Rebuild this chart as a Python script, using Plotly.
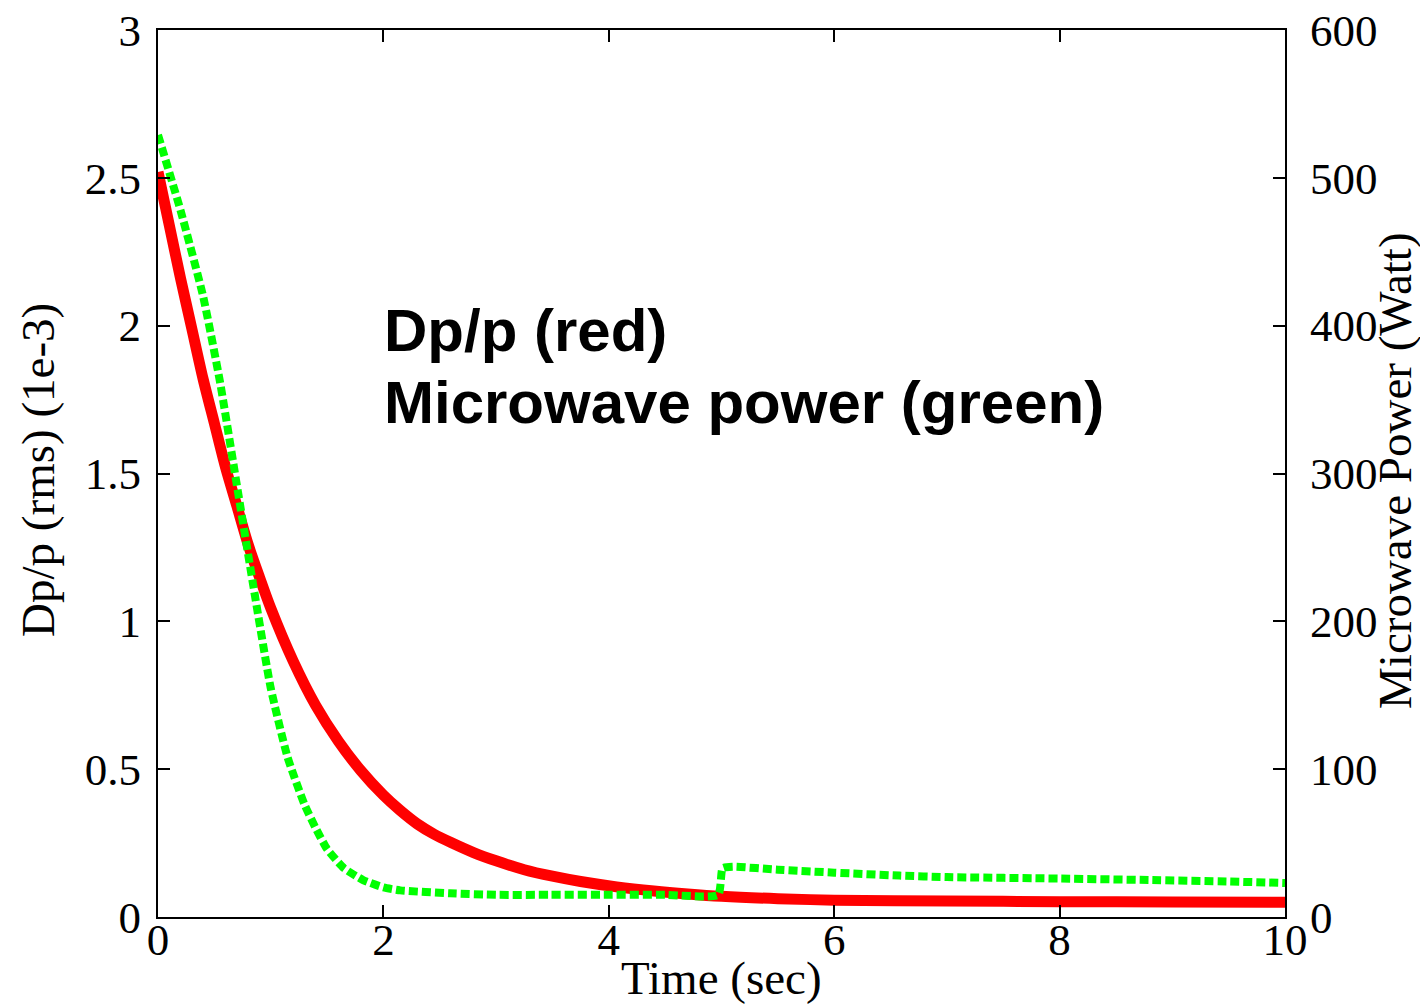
import plotly.graph_objects as go

# Dp/p (red), left axis (1e-3)
t_red = [0, 0.1, 0.2, 0.3, 0.4, 0.5, 0.6, 0.7, 0.8, 0.9, 1.0, 1.2, 1.4, 1.6, 1.8,
         2.0, 2.15, 2.3, 2.45, 2.6, 2.8, 3.0, 3.25, 3.5, 3.75, 4.07, 4.4, 4.7, 5.0, 5.5,
         6.0, 7.0, 8.0, 9.0, 10.0]
dpp_red = [2.52, 2.34, 2.16, 1.99, 1.82, 1.67, 1.52, 1.39, 1.26, 1.15, 1.045, 0.865, 0.715,
           0.595, 0.495, 0.412, 0.36, 0.315, 0.28, 0.252, 0.218, 0.19, 0.16, 0.138, 0.12,
           0.102, 0.088, 0.078, 0.07, 0.062, 0.057, 0.054, 0.052, 0.051, 0.05]

# Microwave power (green), right axis (Watt)
t_green = [0, 0.2, 0.4, 0.55, 0.7, 0.85, 1.0, 1.15, 1.3, 1.4, 1.5, 1.65, 1.82,
           2.0, 2.15, 2.59, 3.0, 3.48, 4.0, 4.5, 4.97, 5.01, 5.1, 5.5, 6.0, 6.58, 7.0,
           8.0, 8.8, 9.5, 10.0]
power_green = [529, 478, 420, 362, 292, 222, 155, 108, 76, 60, 46, 33, 25,
               20, 18, 16, 15, 15, 15, 15, 15, 33, 34, 32, 30, 28, 27,
               26, 25, 24, 23]

x_ticks = [0, 2, 4, 6, 8, 10]
y1_ticks = [0, 0.5, 1, 1.5, 2, 2.5, 3]
y1_labels = ["0", "0.5", "1", "1.5", "2", "2.5", "3"]
y2_ticks = [0, 100, 200, 300, 400, 500, 600]

serif = "Liberation Serif, Times New Roman, serif"
sans = "Liberation Sans, Arial, sans-serif"

fig = go.Figure()
fig.add_trace(go.Scatter(x=t_red, y=dpp_red, mode="lines",
                         line=dict(color="#ff0000", width=11, shape="spline", smoothing=0.8),
                         yaxis="y"))
fig.add_trace(go.Scatter(x=t_green, y=power_green, mode="lines",
                         line=dict(color="#00ff00", width=8, dash="9px,4px",
                                   shape="spline", smoothing=0.5),
                         yaxis="y2"))

axis_common = dict(showgrid=False, zeroline=False, showline=True, linecolor="black",
                   linewidth=2, ticks="inside", ticklen=12, tickwidth=2, tickcolor="black",
                   automargin=False,
                   tickfont=dict(family=serif, size=45, color="black"))

fig.update_layout(
    width=1420, height=1005,
    margin=dict(l=158, r=135, t=30, b=88),
    paper_bgcolor="white", plot_bgcolor="white",
    showlegend=False,
    xaxis=dict(range=[0, 10], tickvals=x_ticks, mirror="ticks", ticklabelstandoff=-18,
               **axis_common),
    yaxis=dict(range=[0, 3], tickvals=y1_ticks, ticktext=y1_labels, ticklabelstandoff=6,
               **axis_common),
    yaxis2=dict(range=[0, 600], tickvals=y2_ticks, overlaying="y", side="right",
                ticklabelstandoff=14, **axis_common),
    annotations=[
        dict(text="Time (sec)", xref="paper", yref="paper", x=0.5, y=-0.069,
             showarrow=False, xanchor="center", yanchor="middle",
             font=dict(family=serif, size=47, color="black")),
        dict(text="Dp/p (rms) (1e-3)", xref="paper", yref="paper", x=-0.1065, y=0.504,
             showarrow=False, textangle=-90, xanchor="center", yanchor="middle",
             font=dict(family=serif, size=47, color="black")),
        dict(text="Microwave Power (Watt)", xref="paper", yref="paper", x=1.0976, y=0.504,
             showarrow=False, textangle=-90, xanchor="center", yanchor="middle",
             font=dict(family=serif, size=47, color="black")),
        dict(text="<b>Dp/p (red)</b>", xref="x", yref="y", x=1.99, y=1.985,
             showarrow=False, xanchor="left", yanchor="middle",
             font=dict(family=sans, size=60, color="black")),
        dict(text="<b>Microwave power (green)</b>", xref="x", yref="y", x=1.99, y=1.74,
             showarrow=False, xanchor="left", yanchor="middle",
             font=dict(family=sans, size=60, color="black")),
    ],
)

fig.write_html("out.html")
